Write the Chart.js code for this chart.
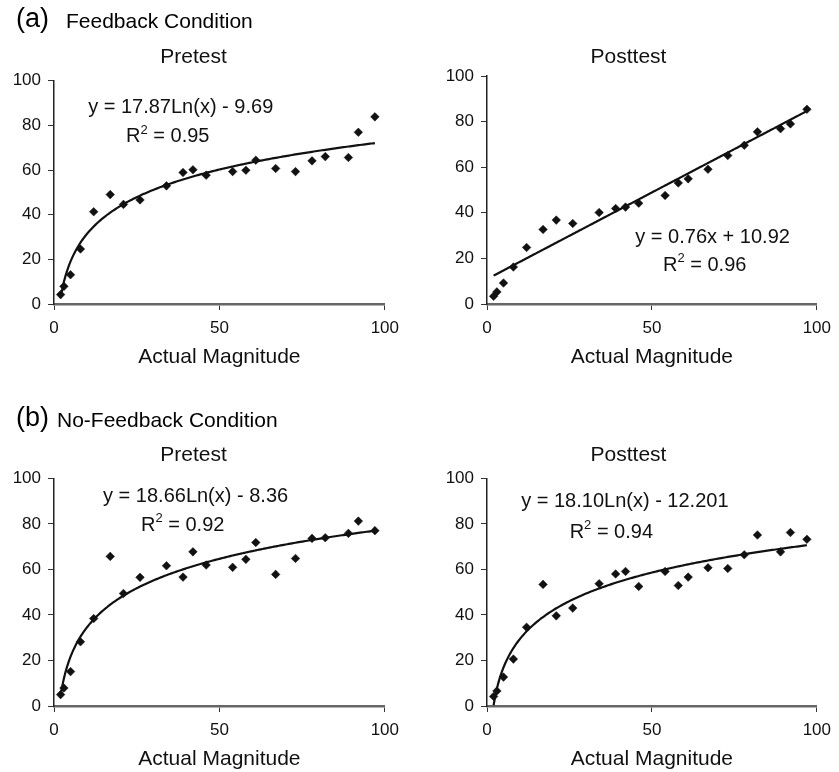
<!DOCTYPE html>
<html>
<head>
<meta charset="utf-8">
<script src="https://cdn.jsdelivr.net/npm/chart.js@4.4.1/dist/chart.umd.min.js"></script>
<style>
    html, body { margin: 0; padding: 0; background: #fff; }
    body { width: 839px; height: 772px; position: relative; overflow: hidden;
           font-family: "Liberation Sans", Arial, sans-serif; color: #000; }
    canvas { position: absolute; }
    .head { position: absolute; line-height: 1; white-space: nowrap; z-index: 2; }
    .tag { font-size: 27px; }
    .cond { font-size: 21px; }
</style>
</head>
<body>

<span class="head tag" style="left:16px; top:5px;">(a)</span>
<span class="head cond" style="left:66px; top:10px;">Feedback Condition</span>
<span class="head tag" style="left:16px; top:404px;">(b)</span>
<span class="head cond" style="left:57px; top:409px;">No-Feedback Condition</span>

<canvas id="feedback-pre" width="407" height="340" style="left:0; top:30px;"></canvas>
<canvas id="feedback-post" width="406" height="340" style="left:433px; top:30px;"></canvas>
<canvas id="nofeedback-pre" width="407" height="344" style="left:0; top:428px;"></canvas>
<canvas id="nofeedback-post" width="406" height="344" style="left:433px; top:428px;"></canvas>

<script>
// Actual magnitudes shown (same for every panel).
var magnitudes = [2, 3, 5, 8, 12, 17, 21, 26, 34, 39, 42, 46, 54, 58, 61, 67, 73, 78, 82, 89, 92, 97];

// Estimated magnitudes.
var feedbackPretest = [4.2, 7.9, 13.1, 24.6, 41.3, 49.0, 44.6, 46.6, 52.9, 58.9, 60.1, 57.7, 59.3, 59.9, 64.4, 60.7, 59.3, 64.1, 66.0, 65.6, 76.9, 83.8];
var feedbackPosttest = [3.4, 5.3, 9.2, 16.2, 24.8, 32.7, 36.8, 35.3, 40.1, 41.9, 42.5, 44.2, 47.6, 53.1, 54.9, 59.1, 65.1, 69.6, 75.5, 76.9, 79.0, 85.4];
var noFeedbackPretest = [5.0, 7.9, 15.1, 28.2, 38.4, 65.7, 49.4, 56.5, 61.6, 56.6, 67.7, 61.9, 60.9, 64.4, 71.8, 57.8, 64.8, 73.6, 73.9, 75.8, 81.2, 77.0];
var noFeedbackPosttest = [4.2, 6.6, 12.7, 20.6, 34.6, 53.4, 39.6, 43.0, 53.7, 58.0, 59.1, 52.5, 59.1, 52.9, 56.6, 60.7, 60.4, 66.4, 75.1, 67.7, 76.2, 73.2];

// Trendline coefficients printed on the figure: [slope, intercept].
var trendFeedbackPre = [17.87, -9.69];      // log
var trendFeedbackPost = [0.76, 10.92];      // linear
var trendNoFeedbackPre = [18.66, -8.36];    // log
var trendNoFeedbackPost = [18.10, -12.201]; // log

var equationTexts = ['y = 17.87Ln(x) - 9.69', 'y = 0.76x + 10.92', 'y = 18.66Ln(x) - 8.36', 'y = 18.10Ln(x) - 12.201'];
var rSquaredTexts = ['0.95', '0.96', '0.92', '0.94'];

var panelTitles = ['Pretest', 'Posttest', 'Pretest', 'Posttest'];
var xAxisTitle = 'Actual Magnitude';

var FONT = '"Liberation Sans", Arial, sans-serif';
var INK = '#111';

/**
 * Trendline points from the printed equation, across the data range.
 */
function trendPoints(coef, kind) {
    var pts = [];
    var lo = magnitudes[0], hi = magnitudes[magnitudes.length - 1];
    for (var x = lo; x <= hi + 1e-9; x += 0.5) {
        var y = kind === 'log' ? coef[0] * Math.log(x) + coef[1] : coef[0] * x + coef[1];
        pts.push({x: x, y: y});
    }
    return pts;
}

// Draws the equation and R² text at data coordinates.
var equationPlugin = {
    id: 'equation',
    afterDatasetsDraw: function (chart, args, opts) {
        var ctx = chart.ctx;
        var sx = chart.scales.x, sy = chart.scales.y;
        ctx.save();
        ctx.fillStyle = INK;
        ctx.textBaseline = 'middle';
        ctx.textAlign = 'center';
        ctx.font = '20px ' + FONT;
        ctx.fillText(opts.equation, sx.getPixelForValue(opts.eqAt[0]), sy.getPixelForValue(opts.eqAt[1]));

        var big = '20px ' + FONT, small = '13px ' + FONT;
        var rest = ' = ' + opts.r2;
        ctx.font = big;
        var wR = ctx.measureText('R').width, wRest = ctx.measureText(rest).width;
        ctx.font = small;
        var w2 = ctx.measureText('2').width;
        var cx = sx.getPixelForValue(opts.r2At[0]);
        var cy = sy.getPixelForValue(opts.r2At[1]);
        var left = cx - (wR + w2 + wRest) / 2;
        ctx.textAlign = 'left';
        ctx.font = big;
        ctx.fillText('R', left, cy);
        ctx.font = small;
        ctx.fillText('2', left + wR, cy - 7);
        ctx.font = big;
        ctx.fillText(rest, left + wR + w2, cy);
        ctx.restore();
    }
};

function makePanel(id, idx, values, trend, kind, layout) {
    var ctx = document.getElementById(id);
    var pts = magnitudes.map(function (m, i) { return {x: m, y: values[i]}; });

    return new Chart(ctx, {
        type: 'scatter',
        data: {
            datasets: [
                {
                    data: pts,
                    pointStyle: 'rectRot',
                    pointRadius: 4.3,
                    pointBackgroundColor: INK,
                    pointBorderColor: INK,
                    pointBorderWidth: 0.5
                },
                {
                    data: trendPoints(trend, kind),
                    showLine: true,
                    pointRadius: 0,
                    borderColor: INK,
                    borderWidth: 2.2,
                    fill: false
                }
            ]
        },
        options: {
            responsive: false,
            devicePixelRatio: 1,
            animation: false,
            events: [],
            layout: {padding: {left: 0, right: layout.padRight, top: 0, bottom: 0}},
            plugins: {
                legend: {display: false},
                tooltip: {enabled: false},
                title: {
                    display: true,
                    text: panelTitles[idx],
                    color: INK,
                    font: {family: FONT, size: 21, weight: 'normal'},
                    padding: {top: layout.titleTop, bottom: layout.titleBottom}
                },
                equation: {
                    equation: equationTexts[idx],
                    r2: rSquaredTexts[idx],
                    eqAt: layout.eqAt,
                    r2At: layout.r2At
                }
            },
            scales: {
                x: {
                    type: 'linear',
                    min: 0,
                    max: 100,
                    afterFit: function (scale) { scale.height = 66; },
                    ticks: {stepSize: 50, color: INK, padding: 8, font: {family: FONT, size: 17}},
                    grid: {drawOnChartArea: false, drawTicks: true, tickLength: 6, color: '#333'},
                    border: {color: '#666', width: 2.5},
                    title: {
                        display: true,
                        text: xAxisTitle,
                        color: INK,
                        font: {family: FONT, size: 21},
                        padding: {top: 0, bottom: 0}
                    }
                },
                y: {
                    type: 'linear',
                    min: 0,
                    max: 100,
                    afterFit: function (scale) { scale.width = 54; },
                    ticks: {stepSize: 20, color: INK, padding: 7, font: {family: FONT, size: 17}},
                    grid: {drawOnChartArea: false, drawTicks: true, tickLength: 6, color: '#333'},
                    border: {color: '#222', width: 1.5}
                }
            }
        },
        plugins: [equationPlugin]
    });
}

makePanel('feedback-pre', 0, feedbackPretest, trendFeedbackPre, 'log',
    {padRight: 20, titleTop: 15, titleBottom: 10.5, eqAt: [38.3, 88.2], r2At: [34.4, 74.8]});
makePanel('feedback-post', 1, feedbackPosttest, trendFeedbackPost, 'linear',
    {padRight: 15, titleTop: 15, titleBottom: 5.8, eqAt: [68.4, 29.3], r2At: [66.0, 16.8]});
makePanel('nofeedback-pre', 2, noFeedbackPretest, trendNoFeedbackPre, 'log',
    {padRight: 20, titleTop: 15, titleBottom: 10.1, eqAt: [42.8, 91.9], r2At: [38.9, 79.2]});
makePanel('nofeedback-post', 3, noFeedbackPosttest, trendNoFeedbackPost, 'log',
    {padRight: 15, titleTop: 15, titleBottom: 10.1, eqAt: [41.8, 89.9], r2At: [37.7, 76.1]});
</script>
</body>
</html>
